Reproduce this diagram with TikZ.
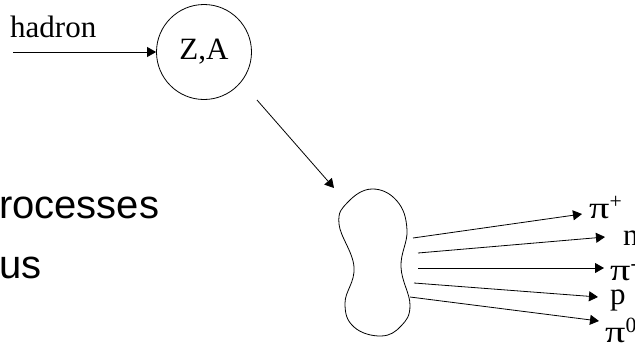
\documentclass[tikz,border=0pt]{standalone}
\usepackage{fontspec}
\setmainfont{Liberation Serif}
\newfontfamily\arialfont{Liberation Sans}
\usetikzlibrary{arrows.meta}
\newcommand{\wpi}{\scalebox{1.3}[1.0]{π}}
\tikzset{
  lbl/.style={inner sep=0pt, anchor=base west, font=\fontsize{31}{31}\selectfont},
  big/.style={inner sep=0pt, anchor=base west, font=\arialfont\fontsize{40}{40}\selectfont},
  ray/.style={-{Triangle[length=9pt,width=10pt]}, line width=0.8pt},
}
\begin{document}
\begin{tikzpicture}[x=1pt,y=-1pt,line join=round]
\useasboundingbox (0,0) rectangle (635,346);
% incoming hadron and target nucleus
\node[lbl] (had) at (10,37) {hadron};
\node[draw,circle,minimum size=95pt,inner sep=0pt,line width=0.8pt,
      font=\fontsize{31}{31}\selectfont] (nuc) at (204,52) {Z,A};
\coordinate (hin) at (13,52);
\draw[ray] (hin) -- (nuc.west);
\coordinate (d1) at (257,100);
\coordinate (d2) at (334,188);
\draw[ray] (d1) -- (d2);
% excited nucleus
\draw[line width=0.8pt] plot[smooth cycle,tension=0.7] coordinates {
  (372,189) (397,201) (407,230) (401,267) (410,305) (401,326) (381,336)
  (354,327) (345,303) (354,267) (339,224) (348,202)};
% text on the left
\node[big] (t1) at (-1,218) {rocesses};
\node[big] (t2) at (-1,278) {us};
% outgoing particles
\node[lbl] (pip) at (589,218) {\wpi\textsuperscript{+}};
\node[lbl] (neu) at (623,245) {n};
\node[lbl] (pim) at (610,280) {\wpi\textsuperscript{-}};
\node[lbl] (pro) at (610,304) {p};
\node[lbl] (piz) at (605,342) {\wpi\textsuperscript{0}};
\coordinate (s1) at (413,238); \coordinate (e1) at (582,214);
\coordinate (s2) at (418,253); \coordinate (e2) at (605,237);
\coordinate (s3) at (418,268); \coordinate (e3) at (604,268);
\coordinate (s4) at (414,283); \coordinate (e4) at (598,297);
\coordinate (s5) at (410,297); \coordinate (e5) at (599,321);
\foreach \i in {1,...,5}
  \draw[ray] (s\i) -- (e\i);
\end{tikzpicture}
\end{document}
